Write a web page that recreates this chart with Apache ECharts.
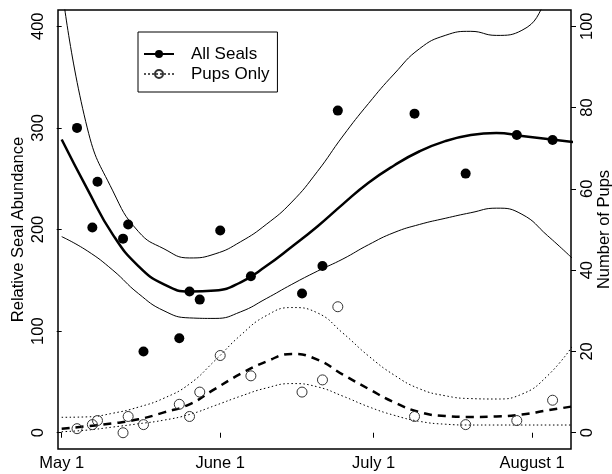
<!DOCTYPE html>
<html>
<head>
<meta charset="utf-8">
<title>Seal abundance</title>
<script src="https://cdn.jsdelivr.net/npm/echarts@6/dist/echarts.min.js"></script>
<style>
    html, body { margin: 0; padding: 0; background: #fff; }
    #chartmain { width: 612px; height: 474px; }
</style>
</head>
<body>
<div id="chartmain"></div>
<script>
// survey days (days after May 1)
const surveyDays = [3, 6, 7, 12, 13, 16, 23, 25, 27, 31, 37, 47, 51, 54, 69, 79, 89, 96];
// relative seal abundance (left axis)
const allSeals = [300, 202, 247, 191, 205, 80, 93, 139, 131, 199, 154, 137, 164, 317, 314, 255, 293, 288];
// number of pups (right axis)
const pupsOnly = [1, 2, 3, 0, 4, 2, 7, 4, 10, 19, 14, 10, 13, 31, 4, 2, 3, 8];

// smooth fits and bands, sampled every 5 days from May 1
const fitDays = [0, 5, 10, 15, 20, 25, 30, 35, 40, 45, 50, 55, 60, 65, 70, 75, 80, 85, 90, 95, 100];
const sealFit = [288.5, 240, 195, 164, 146, 139, 140, 148, 164, 183, 203, 225, 246, 263, 277, 287, 293, 295, 292, 289, 286];
const sealUpper = [440, 300, 238, 198, 181, 172, 176, 188, 205, 227, 257, 292, 324, 353, 378, 391, 395, 391, 396, 428, 480];
const sealLower = [193, 179, 160, 137, 120, 113, 112.5, 119, 132, 146, 159, 171, 185, 197, 205, 211, 216.5, 221, 215, 194, 171];
const pupFit = [1.0, 1.6, 2.3, 3.3, 5.0, 7.0, 10.8, 14.5, 17.5, 19.4, 18.0, 14.3, 10.8, 7.5, 5.1, 4.1, 3.9, 4.0, 4.5, 5.5, 6.5];
const pupUpper = [3.8, 3.9, 4.8, 6.3, 8.5, 12.0, 17.8, 24.0, 28.8, 30.8, 29.5, 24.5, 18.9, 14.2, 10.8, 9.1, 8.4, 8.3, 9.5, 14.0, 21.5];
const pupLower = [0.25, 0.65, 1.4, 2.2, 3.1, 4.5, 6.7, 9.0, 11.0, 12.1, 11.3, 9.0, 6.4, 4.3, 2.8, 2.1, 1.9, 1.9, 1.9, 1.9, 1.9];

// axis ticks
const dateTicks = [0, 31, 61, 92];
const dateLabels = ['May 1', 'June 1', 'July 1', 'August 1'];
const sealTicks = [0, 100, 200, 300, 400];
const pupTicks = [0, 20, 40, 60, 80, 100];

{
    const DOM = {
        main: document.getElementById('chartmain')
    };
    const chart = echarts.init(DOM.main);

    const FONT = "'Liberation Sans', Arial, Helvetica, sans-serif";
    const pair = (xs, ys) => xs.map((x, i) => [x, ys[i]]);

    const labelStyle = {
        color: '#000',
        fontSize: 16.5,
        fontFamily: FONT
    };
    const tickStyle = {
        show: true,
        inside: false,
        length: 5,
        lineStyle: { color: '#000', width: 1 }
    };

    // one curve on the chart
    function curve(name, ys, axis, width, type) {
        return {
            name: name,
            type: 'line',
            yAxisIndex: axis,
            data: pair(fitDays, ys),
            smooth: true,
            symbol: 'none',
            clip: true,
            silent: true,
            lineStyle: { color: '#000', width: width, type: type },
            z: 2
        };
    }

    const option = {
        animation: false,
        backgroundColor: '#fff',
        grid: {
            left: 58,
            right: 41,
            top: 10,
            bottom: 25,
            show: true,
            borderColor: '#000',
            borderWidth: 1.5,
            backgroundColor: 'transparent',
            outerBoundsMode: 'none'
        },
        legend: {
            left: 138,
            top: 32,
            orient: 'vertical',
            padding: [13.5, 8, 9.5, 5],
            itemWidth: 30,
            itemHeight: 10,
            itemGap: 3,
            borderColor: '#000',
            borderWidth: 1,
            backgroundColor: '#fff',
            textStyle: {
                color: '#000',
                fontSize: 17,
                fontFamily: FONT,
                padding: [0, 0, 0, 12]
            },
            data: ['All Seals', 'Pups Only']
        },
        xAxis: {
            type: 'value',
            min: -0.72,
            max: 99.6,
            splitLine: { show: false },
            axisLine: { show: false },
            axisTick: Object.assign({ customValues: dateTicks }, tickStyle),
            axisLabel: Object.assign({
                customValues: dateTicks,
                margin: 6,
                formatter: function (v) {
                    const i = dateTicks.indexOf(v);
                    return i >= 0 ? dateLabels[i] : '';
                }
            }, labelStyle)
        },
        yAxis: [
            {
                type: 'value',
                position: 'left',
                min: -16,
                max: 416,
                name: 'Relative Seal Abundance',
                nameLocation: 'middle',
                nameRotate: 90,
                nameGap: 31,
                nameMoveOverlap: false,
                nameTextStyle: labelStyle,
                splitLine: { show: false },
                axisLine: { show: false },
                axisTick: Object.assign({ customValues: sealTicks }, tickStyle),
                axisLabel: Object.assign({ customValues: sealTicks, rotate: 90, margin: 11 }, labelStyle)
            },
            {
                type: 'value',
                position: 'right',
                min: -4,
                max: 104,
                name: 'Number of Pups',
                nameLocation: 'middle',
                nameRotate: 90,
                nameGap: 25,
                nameMoveOverlap: false,
                nameTextStyle: labelStyle,
                splitLine: { show: false },
                axisLine: { show: false },
                axisTick: Object.assign({ customValues: pupTicks }, tickStyle),
                axisLabel: Object.assign({ customValues: pupTicks, rotate: 90, margin: 8 }, labelStyle)
            }
        ],
        series: [
            // legend entries only
            {
                name: 'All Seals',
                type: 'line',
                data: [],
                symbol: 'circle',
                itemStyle: { color: '#000' },
                lineStyle: { color: '#000', width: 1 }
            },
            {
                name: 'Pups Only',
                type: 'line',
                data: [],
                symbol: 'circle',
                itemStyle: { color: 'rgba(0,0,0,0)', borderColor: '#333', borderWidth: 1 },
                lineStyle: { color: '#555', width: 1, type: [2, 2] }
            },
            curve('sealFit', sealFit, 0, 2.5, 'solid'),
            curve('sealUpper', sealUpper, 0, 1, 'solid'),
            curve('sealLower', sealLower, 0, 1, 'solid'),
            curve('pupFit', pupFit, 1, 2.5, [8, 6]),
            curve('pupUpper', pupUpper, 1, 1, [1.5, 2.5]),
            curve('pupLower', pupLower, 1, 1, [1.5, 2.5]),
            {
                name: 'sealPoints',
                type: 'scatter',
                yAxisIndex: 0,
                data: pair(surveyDays, allSeals),
                symbol: 'circle',
                symbolSize: 10,
                itemStyle: { color: '#000', opacity: 1 },
                z: 3
            },
            {
                name: 'pupPoints',
                type: 'scatter',
                yAxisIndex: 1,
                data: pair(surveyDays, pupsOnly),
                symbol: 'circle',
                symbolSize: 10,
                itemStyle: { color: 'rgba(0,0,0,0)', borderColor: '#333', borderWidth: 1, opacity: 1 },
                z: 3
            }
        ]
    };

    function init() {
        chart.setOption(option);
        window.addEventListener('resize', function () {
            chart.resize();
        });
    }

    init();
}
</script>
</body>
</html>
